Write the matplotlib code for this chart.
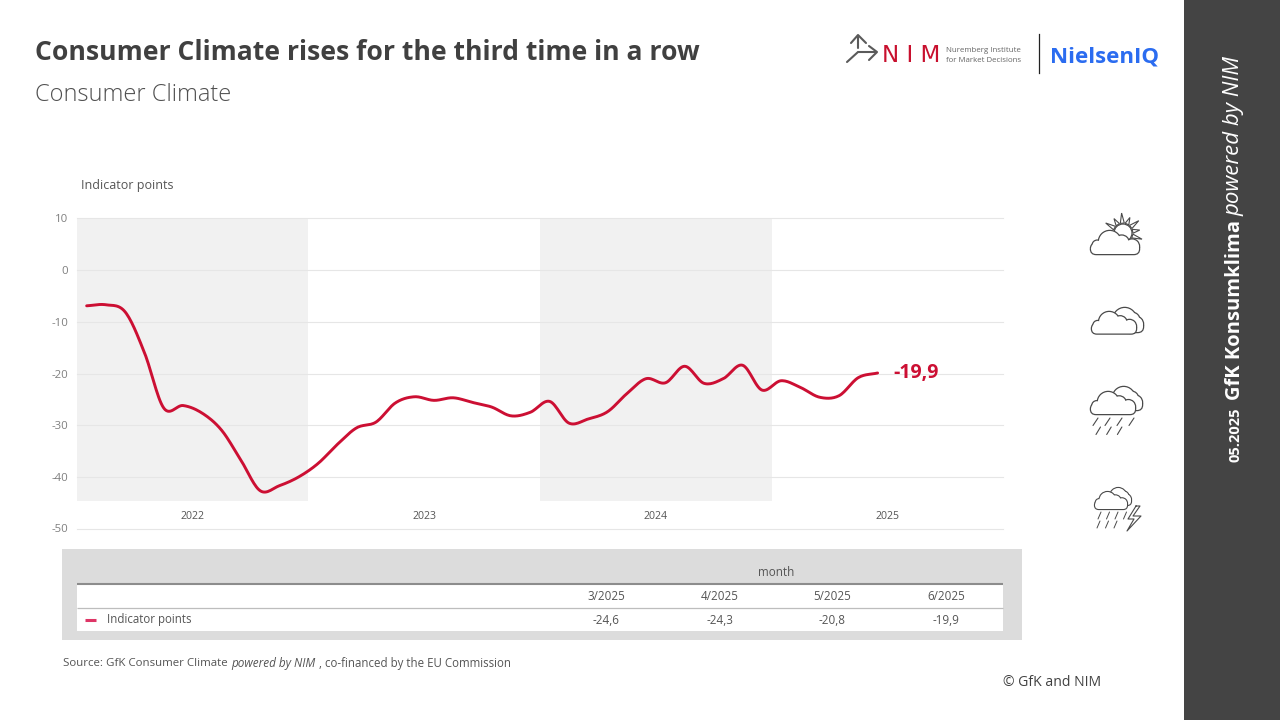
import numpy as np
import matplotlib
matplotlib.use("Agg")
import matplotlib.pyplot as plt
from matplotlib.patches import Rectangle, Circle, FancyBboxPatch, Polygon

# ---------- data ----------
indicator = [-6.9, -6.7, -8.1, -16.0, -26.7, -26.2, -27.7, -31.0, -36.8, -42.7, -41.7, -40.0,
             -37.4, -33.7, -30.5, -29.4, -25.7, -24.5, -25.2, -24.7, -25.6, -26.5, -28.2, -27.5,
             -25.4, -29.6, -28.8, -27.4, -23.9, -21.0, -21.8, -18.6, -21.9, -21.0, -18.4, -23.2,
             -21.4, -22.7, -24.6, -24.3, -20.8, -19.9]
years = ["2022", "2023", "2024", "2025"]
y_ticks = [10, 0, -10, -20, -30, -40, -50]
table_months = ["3/2025", "4/2025", "5/2025", "6/2025"]
table_values = ["-24,6", "-24,3", "-20,8", "-19,9"]
last_label = "-19,9"

RED = "#CC0F33"
FONT = "Open Sans"
plt.rcParams["font.family"] = [FONT, "DejaVu Sans"]

W, H = 1280, 720
fig = plt.figure(figsize=(12.8, 7.2), dpi=100, facecolor="white")


def box(l, t, r, b):
    return [l / W, 1 - b / H, (r - l) / W, (b - t) / H]


# ---------- page overlay in pixel coordinates ----------
pg = fig.add_axes([0, 0, 1, 1], zorder=0)
pg.set_xlim(0, W)
pg.set_ylim(H, 0)
pg.axis("off")


def T(x, y, s, size, color="#404040", ha="left", va="center", **kw):
    return pg.text(x, y, s, fontsize=size, color=color, ha=ha, va=va, **kw)


def R(y_center, s, size, **kw):
    pg.text(1239.5, y_center, s, fontsize=size, color="white", rotation=90,
            ha="center", va="baseline", rotation_mode="anchor", **kw)


# sidebar
pg.add_patch(Rectangle((1184, 0), 96, 720, fc="#444444", ec="none"))
R(310.5, "GfK Konsumklima", 14.5, fontweight="bold")
R(136, "powered by NIM", 16.0, fontstyle="italic")
R(435, "05.2025", 10.5, fontweight="bold")

# titles
T(35, 52.5, "Consumer Climate rises for the third time in a row", 19.05, "#404040", fontweight="bold")
T(35, 95, "Consumer Climate", 17, "#505050", fontweight="light")

# logo NIM
grey = "#5A5A5A"
lw = 1.5
pg.plot([847, 858, 875], [62, 52, 52], color=grey, lw=lw, solid_capstyle="round", solid_joinstyle="miter")
pg.plot([869, 877, 869], [46, 52, 60], color=grey, lw=lw, solid_capstyle="round")
pg.plot([858, 858], [37, 48], color=grey, lw=lw, solid_capstyle="round")
pg.plot([851, 858, 866], [43, 35, 43], color=grey, lw=lw, solid_capstyle="round")
T(882, 55, "N I M", 16.6, "#C8102E", family="DejaVu Sans")
T(946, 50, "Nuremberg Institute", 5.7, "#666666")
T(946, 60, "for Market Decisions", 5.7, "#666666")
pg.plot([1038.5, 1038.5], [34, 73], color="#222222", lw=0.9)
T(1050, 57, "NielsenIQ", 16.0, "#2B6CF0", fontweight="bold")

# chart table
pg.add_patch(Rectangle((62, 549), 960, 91, fc="#DCDCDC", ec="none"))
pg.add_patch(Rectangle((77, 584), 926, 47, fc="white", ec="none"))
pg.plot([77, 1003], [584, 584], color="#8C8C8C", lw=1.5, solid_capstyle="butt")
pg.plot([77, 1003], [607.5, 607.5], color="#BDBDBD", lw=0.9, solid_capstyle="butt")
T(776, 573, "month", 8.4, "#555555", ha="center")
for xc, m, v in zip([606, 719.5, 832.5, 946], table_months, table_values):
    T(xc, 597, m, 8.4, "#555555", ha="center")
    T(xc, 620.5, v, 8.4, "#555555", ha="center")
pg.plot([85, 96], [620, 620], color="#DE3566", lw=2.2, solid_capstyle="butt")
T(107, 620, "Indicator points", 8.3, "#555555")

# footers
T(63, 663, "Source: GfK Consumer Climate ", 8.25, "#555555")
T(231, 663, "powered by NIM", 8.5, "#555555", fontstyle="italic")
T(319, 663, ", co-financed by the EU Commission", 8.3, "#555555")
T(1003, 682.5, "© GfK and NIM", 10.1, "#404040")
T(81, 185.5, "Indicator points", 9.0, "#555555")

# ---------- weather icons ----------
ICON = "#4A4A4A"


def cloud(x0, x1, base, top, z, lw=0.9):
    w = x1 - x0
    h = base - top
    bar_h = 0.45 * h
    right_r = 0.30 * h
    parts = [
        lambda **k: FancyBboxPatch((x0, base - bar_h), w, bar_h,
                                   boxstyle=f"round,pad=0,rounding_size={bar_h/2}", **k),
        lambda **k: Circle((x0 + 0.39 * w, top + 0.47 * h), 0.47 * h, **k),
        lambda **k: Circle((x0 + 0.64 * w, top + 0.50 * h), 0.30 * h, **k),
        lambda **k: Circle((x1 - right_r, base - 0.33 * h), right_r, **k),
        lambda **k: Circle((x0 + 0.13 * w, base - 0.38 * h), 0.20 * h, **k),
    ]
    for p in parts:
        pg.add_patch(p(fc="none", ec=ICON, lw=lw * 2, zorder=z))
    for p in parts:
        pg.add_patch(p(fc="white", ec="none", zorder=z + 0.1))


def rain(x_start, y0, y1, n, dx, slant, z=6, lw=0.8):
    for i in range(n):
        pg.plot([x_start + i * dx + slant, x_start + i * dx],
                [y0, y1], color=ICON, lw=lw, zorder=z, solid_capstyle="round")


# sun icon
sx, sy = 1123, 233
for k in range(12):
    a = np.deg2rad(-150 + k * 28)
    b = 0.2
    r_out = 20 if k % 2 == 0 else 17
    pts = [(sx + 10 * np.cos(a - b), sy + 10 * np.sin(a - b)),
           (sx + r_out * np.cos(a), sy + r_out * np.sin(a)),
           (sx + 10 * np.cos(a + b), sy + 10 * np.sin(a + b))]
    pg.add_patch(Polygon(pts, closed=True, fc="white", ec=ICON, lw=0.8, zorder=3))
pg.add_patch(Circle((sx, sy), 9, fc="white", ec=ICON, lw=0.9, zorder=3.5))
cloud(1091, 1139, 254, 231, 4)

# cloud icon
cloud(1113, 1143, 332, 308, 3)
cloud(1092, 1136, 333.5, 312, 4)

# rain icon
cloud(1112, 1142, 410, 387, 3)
cloud(1091, 1135, 414, 392, 4)
rain(1093, 418, 425.5, 4, 12, 5)
rain(1096, 427, 434.5, 3, 10.7, 4.5)

# storm icon
cloud(1110, 1131, 505, 488, 3, lw=0.8)
cloud(1095, 1127, 509, 492, 4, lw=0.8)
rain(1098, 512, 519, 4, 8.5, 3, lw=0.7)
rain(1097, 521, 528, 3, 8.5, 3, lw=0.7)
pg.plot([1136, 1128, 1134, 1127, 1141, 1133, 1140, 1136],
        [506, 519, 519, 531, 516, 516, 506, 506], color=ICON, lw=0.8, zorder=6)

# ---------- chart ----------
ax = fig.add_axes(box(77, 218.5, 1003, 528.5), zorder=2)
ax.patch.set_alpha(0)
ax.set_xlim(-0.5, 47.5)
ax.set_ylim(-50, 10)
for sp in ax.spines.values():
    sp.set_visible(False)

band_bottom = -44.65
for i in (0, 2):
    ax.fill_between([-0.5 + 12 * i, 11.5 + 12 * i], band_bottom, 10, color="#F1F1F1", lw=0, zorder=1)
for v in y_ticks:
    ax.plot([-0.5, 47.5], [v, v], color="#E6E6E6", lw=0.8, zorder=1.5, clip_on=False)

ax.set_yticks(y_ticks)
ax.set_yticklabels([str(v) for v in y_ticks], fontsize=8.2, color="#7F7F7F")
ax.tick_params(axis="y", length=0, pad=6.5)
ax.set_xticks([])
for i, yr in enumerate(years):
    ax.text(5.5 + 12 * i, -47.7, yr, ha="center", va="center", fontsize=7.6, color="#555555")

# smooth curve through the monthly values
vals = np.array(indicator, dtype=float)
idx = np.arange(len(vals))
tang = np.gradient(vals)
xs, ys = [], []
t = np.linspace(0, 1, 16)[:-1]
for i in range(len(vals) - 1):
    h00 = 2 * t**3 - 3 * t**2 + 1
    h10 = t**3 - 2 * t**2 + t
    h01 = -2 * t**3 + 3 * t**2
    h11 = t**3 - t**2
    xs.extend(i + t)
    ys.extend(h00 * vals[i] + h10 * tang[i] + h01 * vals[i + 1] + h11 * tang[i + 1])
xs.append(idx[-1])
ys.append(vals[-1])
ax.plot(xs, ys, color=RED, lw=2.1, zorder=3, solid_capstyle="round", solid_joinstyle="round")
ax.annotate(last_label, (idx[-1], vals[-1]), xytext=(11, 0), textcoords="offset points",
            fontsize=14, color=RED, fontweight="bold", va="center", ha="left")

fig.savefig("out.png", dpi=100)
